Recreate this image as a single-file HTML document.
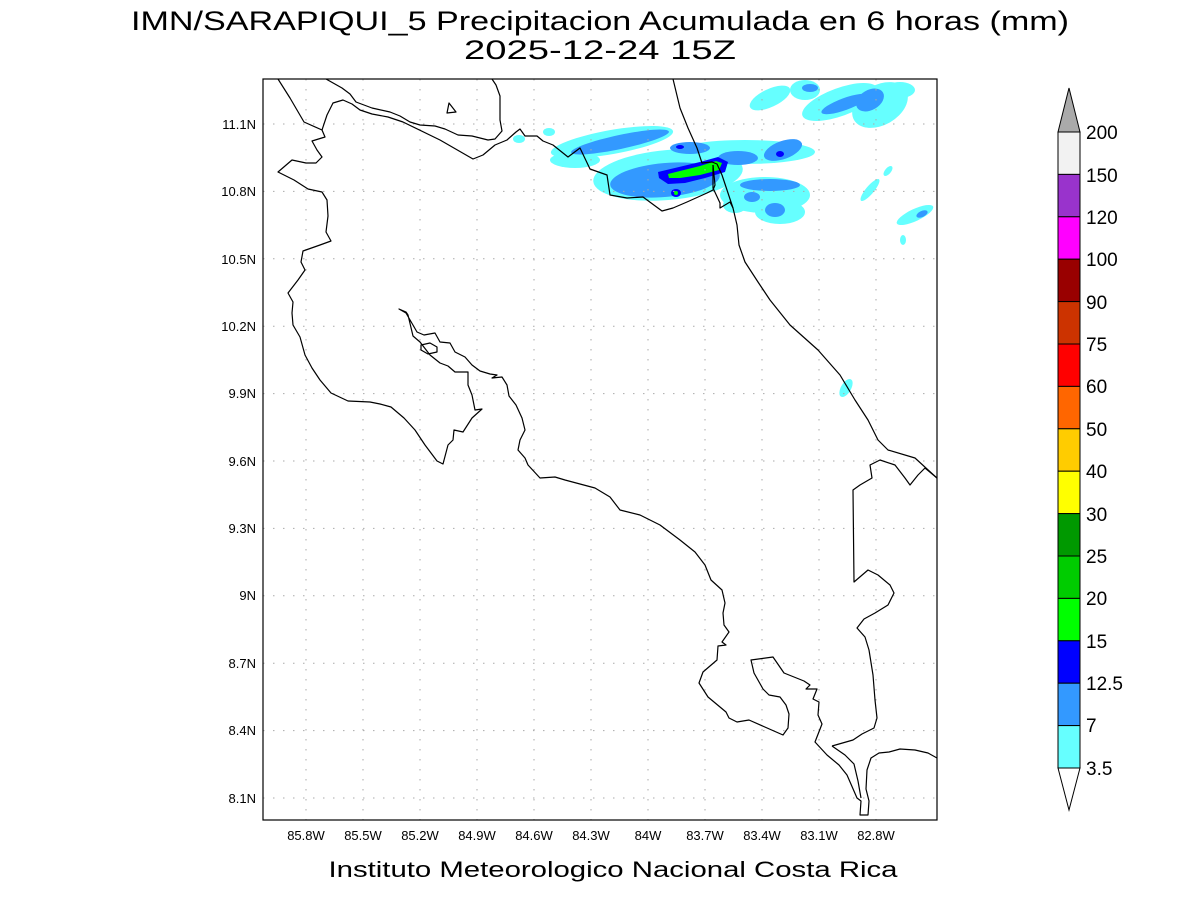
<!DOCTYPE html>
<html><head><meta charset="utf-8"><style>
html,body{margin:0;padding:0;background:#fff}
svg{display:block}
text{font-family:"Liberation Sans",sans-serif;fill:#000}
</style></head><body>
<svg width="1200" height="900" viewBox="0 0 1200 900" xmlns="http://www.w3.org/2000/svg">
<rect width="1200" height="900" fill="#fff"/>
<text x="600" y="30" font-size="27" text-anchor="middle" textLength="938" lengthAdjust="spacingAndGlyphs" fill="#111">IMN/SARAPIQUI_5 Precipitacion Acumulada en 6 horas (mm)</text>
<text x="600" y="59" font-size="27" text-anchor="middle" textLength="272" lengthAdjust="spacingAndGlyphs" fill="#111">2025-12-24 15Z</text>

<defs><clipPath id="c"><rect x="263" y="79" width="674" height="741"/></clipPath></defs>
<g clip-path="url(#c)">
<g fill="#66ffff">
<ellipse cx="612" cy="142" rx="62" ry="12" transform="rotate(-10 612 142)"/>
<ellipse cx="668" cy="175" rx="75" ry="25" transform="rotate(-5 668 175)"/>
<ellipse cx="745" cy="152" rx="70" ry="12"/>
<ellipse cx="575" cy="160" rx="25" ry="8"/>
<ellipse cx="765" cy="195" rx="45" ry="18"/>
<ellipse cx="780" cy="212" rx="25" ry="12"/>
<ellipse cx="735" cy="205" rx="12" ry="8"/>
<ellipse cx="770" cy="98" rx="22" ry="9" transform="rotate(-25 770 98)"/>
<ellipse cx="805" cy="90" rx="15" ry="10"/>
<ellipse cx="840" cy="102" rx="40" ry="14" transform="rotate(-20 840 102)"/>
<ellipse cx="880" cy="105" rx="30" ry="20" transform="rotate(-30 880 105)"/>
<ellipse cx="900" cy="90" rx="15" ry="8"/>
<ellipse cx="870" cy="190" rx="4" ry="14" transform="rotate(40 870 190)"/>
<ellipse cx="888" cy="171" rx="3" ry="6" transform="rotate(40 888 171)"/>
<ellipse cx="915" cy="215" rx="20" ry="6" transform="rotate(-25 915 215)"/>
<ellipse cx="903" cy="240" rx="3" ry="5"/>
<ellipse cx="846" cy="388" rx="5" ry="10" transform="rotate(30 846 388)"/>
<ellipse cx="519" cy="139" rx="6" ry="4"/>
<ellipse cx="549" cy="132" rx="6" ry="4"/>
</g>
<g fill="#3399ff">
<ellipse cx="620" cy="142" rx="50" ry="7" transform="rotate(-12 620 142)"/>
<ellipse cx="665" cy="180" rx="55" ry="17" transform="rotate(-5 665 180)"/>
<ellipse cx="690" cy="148" rx="20" ry="6"/>
<ellipse cx="738" cy="158" rx="20" ry="7"/>
<ellipse cx="783" cy="150" rx="20" ry="9" transform="rotate(-20 783 150)"/>
<ellipse cx="770" cy="185" rx="30" ry="6"/>
<ellipse cx="752" cy="197" rx="8" ry="5"/>
<ellipse cx="775" cy="210" rx="10" ry="7"/>
<ellipse cx="810" cy="88" rx="8" ry="4"/>
<ellipse cx="845" cy="104" rx="25" ry="6" transform="rotate(-20 845 104)"/>
<ellipse cx="870" cy="100" rx="15" ry="10" transform="rotate(-30 870 100)"/>
<ellipse cx="922" cy="214" rx="6" ry="3" transform="rotate(-25 922 214)"/>
</g>
<g fill="#0000ff">
<path d="M658 172 L700 162 L718 157 L728 162 L725 172 L705 178 L685 183 L668 184 L659 178 Z"/>
<ellipse cx="676" cy="193" rx="5" ry="4"/>
<ellipse cx="780" cy="154" rx="4" ry="3"/>
<ellipse cx="680" cy="147" rx="4" ry="2"/>
</g>
<path fill="#00ff00" d="M668 174 L700 166 L716 161 L722 163 L719 170 L700 175 L680 178 L669 178 Z"/>
<ellipse cx="676" cy="193" rx="2" ry="2" fill="#00ff00"/>

<g stroke="#aaa" stroke-width="1" stroke-dasharray="1.5,8.5" fill="none">
<path d="M306 79V820M363 79V820M420 79V820M477 79V820M534 79V820M591 79V820M648 79V820M705 79V820M762 79V820M819 79V820M876 79V820"/>
<path d="M263 124H937M263 191.4H937M263 258.8H937M263 326.2H937M263 393.6H937M263 461H937M263 528.4H937M263 595.8H937M263 663.2H937M263 730.6H937M263 798H937"/>
</g>

<g fill="none" stroke="#000" stroke-width="1.2" stroke-linejoin="round">
<polyline points="278,79 290,98 304,122 322,130 325,137 312,141 317,150 322,157 316,163 306,163 292,160 278,172 294,180 308,189 322,192 327,200 328,216 326,232 331,241 320,245 303,251 301,262 305,270 298,280 288,293 293,302 292,313 293,325 300,337 305,355 312,368 320,380 331,393 348,401 370,402 380,404 391,407 404,418 415,430 425,445 437,461 443,464 448,445 453,440 454,430 463,432 472,418 482,409 475,410 472,395 468,385 468,372 455,372 448,366 440,363 430,355 420,342 413,336 408,315 406,312 399,309 406,313 417,332 424,335 435,333 440,342 450,343 455,352 465,357 472,365 480,371 490,374 497,375 492,378 502,377 507,385 509,396 516,405 522,418 525,430 520,440 518,450 525,458 528,465 540,478 555,477 565,480 580,484 595,488 610,497 620,510 640,515 660,525 680,540 695,552 705,565 711,580 722,590 725,603 723,613 724,625 729,632 722,642 726,645 718,646 717,660 703,672 699,683 708,697 726,712 729,718 737,722 749,720 783,735 788,728 789,714 786,705 780,697 769,695 763,689 754,673 751,660 773,657 784,673 804,681 810,685 806,689 817,689 813,699 819,702 818,715 822,724 815,742 827,755 839,765 847,775 857,798 861,801 860,815 868,815 869,801 866,789 867,770 871,758 879,753 889,752 900,749 915,750 928,753 937,758"/>
<polyline points="832,746 853,740 862,734 874,728 877,718 875,700 873,675 869,650 865,637 857,628 864,619 875,613 888,605 894,593 890,585 878,575 868,570 854,582 853,490 860,485 872,478 870,465 880,460 895,465 905,478 910,485 918,475 925,468 937,478"/>
<polyline points="832,746 845,755 854,764 858,781 861,798"/>
<polyline points="937,478 915,458 888,450 878,440 868,420 855,400 840,375 818,350 790,325 770,300 758,282 745,262 739,245 737,225 733,208 730,202 720,208 720,203 713,188 713,165"/>
<polyline points="322,130 327,115 333,103 343,100 352,104 360,110 372,114 388,117 403,122 440,140 473,159 483,155 495,145 507,140 516,132 520,129 525,136 537,136 543,141 553,145 568,157 580,148 590,169 607,175 610,195 627,198 643,197 662,211 673,208 687,202 707,193 713,190 715,185 713,165"/>
<polyline points="673,79 680,108 688,128 697,148 702,163 712,162 717,164 722,175 727,190 733,208"/>
<polyline points="326,79 342,88 350,94 356,102 372,108 390,112 400,116 410,122 420,125 435,126 445,129 458,135 472,136 488,140 495,139 502,131 500,120 500,96 496,85 492,79"/>
<polygon points="449,103 456,112 447,113"/>
<polygon points="421,345 430,343 437,347 437,352 428,354 421,350"/>
</g>
</g>
<rect x="263" y="79" width="674" height="741" fill="none" stroke="#000" stroke-width="1.2"/>

<g font-size="13" text-anchor="end">
<text x="256" y="129">11.1N</text><text x="256" y="196">10.8N</text><text x="256" y="264">10.5N</text>
<text x="256" y="331">10.2N</text><text x="256" y="398">9.9N</text><text x="256" y="466">9.6N</text>
<text x="256" y="533">9.3N</text><text x="256" y="600">9N</text><text x="256" y="668">8.7N</text>
<text x="256" y="735">8.4N</text><text x="256" y="803">8.1N</text>
</g>
<g font-size="13" text-anchor="middle">
<text x="306" y="840">85.8W</text><text x="363" y="840">85.5W</text><text x="420" y="840">85.2W</text>
<text x="477" y="840">84.9W</text><text x="534" y="840">84.6W</text><text x="591" y="840">84.3W</text>
<text x="648" y="840">84W</text><text x="705" y="840">83.7W</text><text x="762" y="840">83.4W</text>
<text x="819" y="840">83.1W</text><text x="876" y="840">82.8W</text>
</g>
<text x="613" y="877" font-size="22" text-anchor="middle" textLength="569" lengthAdjust="spacingAndGlyphs" fill="#444">Instituto Meteorologico Nacional Costa Rica</text>

<g stroke="#000" stroke-width="1">
<polygon points="1058,132 1080,132 1069,88" fill="#aaaaaa"/>
<rect x="1058" y="132" width="22" height="42.4" fill="#f2f2f2"/>
<rect x="1058" y="174.4" width="22" height="42.4" fill="#9933cc"/>
<rect x="1058" y="216.8" width="22" height="42.4" fill="#ff00ff"/>
<rect x="1058" y="259.2" width="22" height="42.4" fill="#990000"/>
<rect x="1058" y="301.6" width="22" height="42.4" fill="#cc3300"/>
<rect x="1058" y="344" width="22" height="42.4" fill="#ff0000"/>
<rect x="1058" y="386.4" width="22" height="42.4" fill="#ff6600"/>
<rect x="1058" y="428.8" width="22" height="42.4" fill="#ffcc00"/>
<rect x="1058" y="471.2" width="22" height="42.4" fill="#ffff00"/>
<rect x="1058" y="513.6" width="22" height="42.4" fill="#009900"/>
<rect x="1058" y="556" width="22" height="42.4" fill="#00cc00"/>
<rect x="1058" y="598.4" width="22" height="42.4" fill="#00ff00"/>
<rect x="1058" y="640.8" width="22" height="42.4" fill="#0000ff"/>
<rect x="1058" y="683.2" width="22" height="42.4" fill="#3399ff"/>
<rect x="1058" y="725.6" width="22" height="42.4" fill="#66ffff"/>
<polygon points="1058,768 1080,768 1069,810" fill="#fff"/>
</g>
<g font-size="19">
<text x="1086" y="139">200</text><text x="1086" y="182">150</text><text x="1086" y="224">120</text>
<text x="1086" y="266">100</text><text x="1086" y="309">90</text><text x="1086" y="351">75</text>
<text x="1086" y="393">60</text><text x="1086" y="436">50</text><text x="1086" y="478">40</text>
<text x="1086" y="521">30</text><text x="1086" y="563">25</text><text x="1086" y="605">20</text>
<text x="1086" y="648">15</text><text x="1086" y="690">12.5</text><text x="1086" y="732">7</text>
<text x="1086" y="775">3.5</text>
</g>
</svg>
</body></html>
